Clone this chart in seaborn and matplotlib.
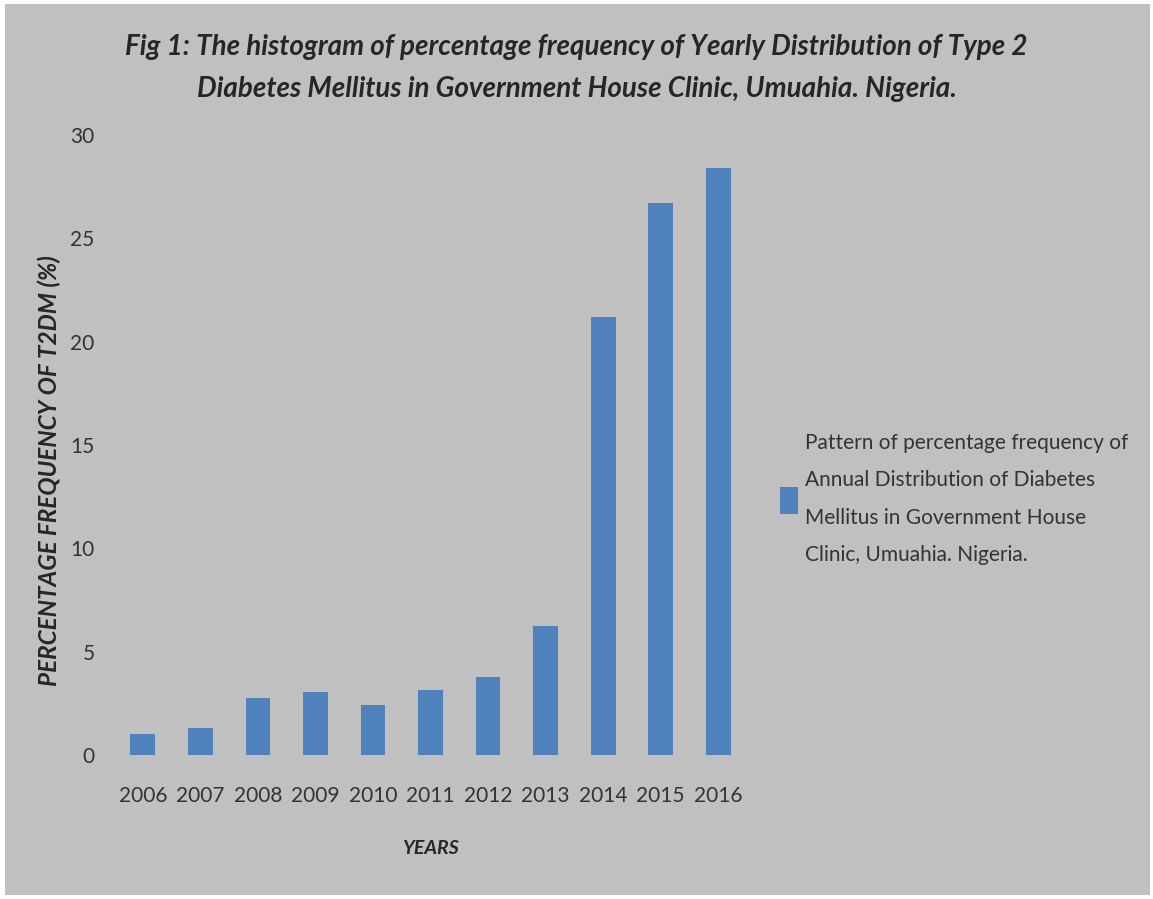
import matplotlib
matplotlib.use("Agg")
import matplotlib.pyplot as plt
import seaborn as sns
import pandas as pd
from matplotlib.patches import Patch, Rectangle

years = ["2006", "2007", "2008", "2009", "2010", "2011", "2012", "2013", "2014", "2015", "2016"]
percent = [1.0, 1.3, 2.75, 3.05, 2.4, 3.15, 3.75, 6.25, 21.2, 26.7, 28.4]
yticks = [0, 5, 10, 15, 20, 25, 30]

title = ("Fig 1: The histogram of percentage frequency of Yearly Distribution of Type 2\n"
         "Diabetes Mellitus in Government House Clinic, Umuahia. Nigeria.")
ylab = "PERCENTAGE FREQUENCY OF T2DM (%)"
xlab = "YEARS"
legend_text = ("Pattern of percentage frequency of\nAnnual Distribution of Diabetes\n"
               "Mellitus in Government House\nClinic, Umuahia. Nigeria.")

df = pd.DataFrame({"year": years, "pct": percent})

sns.set_style("white")
plt.rcParams["font.family"] = ["Lato", "DejaVu Sans"]

bg = "#c0c0c0"
bar_col = "#4f81bd"
txt = "#262626"

fig = plt.figure(figsize=(11.53, 8.99), dpi=100, facecolor="white")
fig.patches.append(Rectangle((0.004, 0.004), 0.993, 0.991, transform=fig.transFigure,
                             facecolor=bg, edgecolor="none", zorder=-1))
ax = fig.add_axes([0.0989, 0.1602, 0.549, 0.6896])
ax.set_facecolor(bg)

sns.barplot(data=df, x="year", y="pct", color=bar_col, saturation=1, width=0.43,
            linewidth=0, ax=ax)

ax.set_ylim(0, 30)
ax.set_xlim(-0.5, len(years) - 0.5)
ax.set_yticks(yticks)
ax.set_yticklabels([str(t) for t in yticks])
ax.tick_params(axis="both", length=0, labelsize=15, colors="#333333")
ax.tick_params(axis="x", pad=22)
ax.tick_params(axis="y", pad=14)
for s in ax.spines.values():
    s.set_visible(False)
ax.set_xlabel("")
ax.set_ylabel("")

fig.text(0.5, 0.962, title, ha="center", va="top", fontsize=20, fontweight="bold",
         fontstyle="italic", color=txt, linespacing=1.75)
fig.text(0.043, 0.477, ylab, rotation=90, ha="center", va="center", fontsize=17.5,
         fontweight="bold", fontstyle="italic", color=txt)
fig.text(0.373, 0.056, xlab, ha="center", va="center", fontsize=14,
         fontweight="bold", fontstyle="italic", color=txt)

leg = fig.legend(handles=[Patch(facecolor=bar_col, linewidth=0, label=legend_text)],
                 loc="center left", bbox_to_anchor=(0.66, 0.445), frameon=False,
                 fontsize=15, handlelength=0.9, handleheight=1.6, handletextpad=0.3,
                 labelcolor="#333333")
for t in leg.get_texts():
    t.set_linespacing(2.1)

fig.savefig("out.png", dpi=100, facecolor="white")
